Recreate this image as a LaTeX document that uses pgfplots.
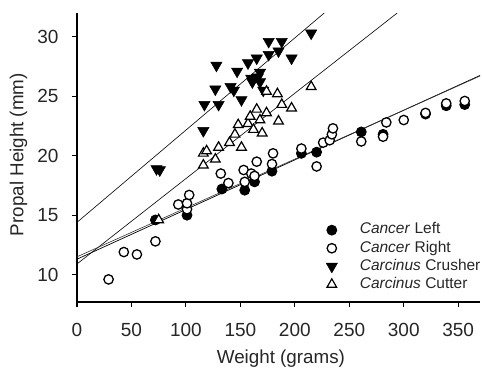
\documentclass[border=0pt]{standalone}
\usepackage{pgfplots}
\pgfplotsset{compat=1.18}
\usepackage{fontspec}
\setmainfont{Liberation Sans}
\begin{document}
\begin{tikzpicture}
\useasboundingbox (-77pt,-66pt) rectangle (405pt,302pt);
\begin{axis}[
  at={(0pt,0pt)}, anchor=south west,
  scale only axis, width=403pt, height=289pt,
  xmin=0, xmax=370, ymin=7.7, ymax=32,
  axis lines=left, axis line style={-, line width=1.3pt, black},
  xtick={0,50,...,350}, ytick={10,15,...,30},
  minor tick num=0,
  tick align=outside, major tick length=5pt,
  tick style={line width=1.1pt, black},
  /pgf/number format/assume math mode=true,
  every tick label/.append style={font=\fontsize{19}{22}\selectfont, color=black!85},
  xticklabel style={anchor=base, yshift=-29.6pt},
  yticklabel style={anchor=east, xshift=-10pt},
  xlabel={Weight (grams)}, ylabel={Propal Height (mm)},
  label style={font=\fontsize{18.8}{22}\selectfont, color=black!85},
  xlabel style={at={(axis description cs:0.506,-0.213)}, anchor=base},
  ylabel style={at={(axis description cs:-0.145,0.51)}, anchor=center},
  legend style={draw=none, fill=none, at={(rel axis cs:0.6104,0.283)}, anchor=north west,
    font=\fontsize{15.5}{18}\selectfont, text=black!85, row sep=2.6pt,
    nodes={inner sep=0pt, text height=11.5pt, text depth=4pt}},
  legend cell align=left,
  legend image code/.code={\path[draw=none, fill=none] (0pt,0pt) -- (32pt,0pt); \path[#1, draw=none, fill=none, only marks] plot coordinates {(4pt,0pt)};},
]
% regression lines
\addplot[black, line width=0.6pt, forget plot] coordinates {(0,14.4) (227,32)};
\addplot[black, line width=0.6pt, forget plot] coordinates {(0,10.9) (294,32)};
\addplot[black, line width=0.7pt, forget plot] coordinates {(0,11.3) (370,26.75)};
\addplot[black!80, line width=0.6pt, forget plot] coordinates {(0,11.5) (370,26.7)};
% Cancer Left
\addplot[only marks, mark=*, mark size=5pt, mark options={draw=black, fill=black, line width=0.8pt}] coordinates {
(72,14.6) (101,15.0) (133,17.2) (154,17.1) (163,17.8) (179,18.7) (206,20.2) (220,20.3)
(261,22.0) (281,21.8) (320,23.5) (339,24.2) (356,24.3)
};
\addlegendentry{\textit{Cancer} Left}
% Cancer Right
\addplot[only marks, mark=*, mark size=4.7pt, mark options={draw=black, fill=white, line width=1.3pt}] coordinates {
(29,9.6) (43,11.9) (55,11.7) (72,12.8) (93,15.9) (101,15.5) (101,16.0) (103,16.7)
(132,18.5) (139,17.7) (153,18.8) (154,17.8) (160,18.5) (163,18.3) (165,19.5) (179,19.3)
(180,20.2) (206,20.6) (220,19.1) (226,21.1) (232,21.3) (234,21.8) (235,22.3) (261,21.2)
(281,21.6) (284,22.8) (300,23.0) (320,23.6) (339,24.4) (356,24.6)
};
\addlegendentry{\textit{Cancer} Right}
% Carcinus Crusher
\addplot[only marks, mark=triangle*, mark size=6.5pt, mark options={rotate=180, draw=black, fill=black, line width=0.5pt}] coordinates {
(73,18.9) (76,18.8) (116,22.1) (117,24.3) (128,27.6) (130,24.3) (127,25.6) (141,25.8)
(144,25.5) (147,27.1) (151,24.7) (157,27.8) (160,26.5) (161,26.2) (165,28.2) (166,26.6)
(168,27.0) (168,26.2) (171,25.5) (176,29.6) (176,28.5) (185,28.8) (188,29.6) (197,28.2)
(215,30.3)
};
\addlegendentry{\textit{Carcinus} Crusher}
% Carcinus Cutter
\addplot[only marks, mark=triangle*, mark size=5.6pt, mark options={draw=black, fill=white, line width=1.2pt}] coordinates {
(75,14.6) (116,19.2) (116,20.2) (119,20.4) (127,19.7) (130,20.7) (140,21.1) (145,21.8)
(148,22.6) (151,20.7) (157,22.7) (159,23.3) (162,22.2) (165,23.9) (168,23.0) (170,21.9)
(174,23.6) (174,25.4) (184,25.2) (185,22.9) (188,24.3) (197,24.0) (215,25.8)
};
\addlegendentry{\textit{Carcinus} Cutter}
\end{axis}
\end{tikzpicture}
\end{document}
